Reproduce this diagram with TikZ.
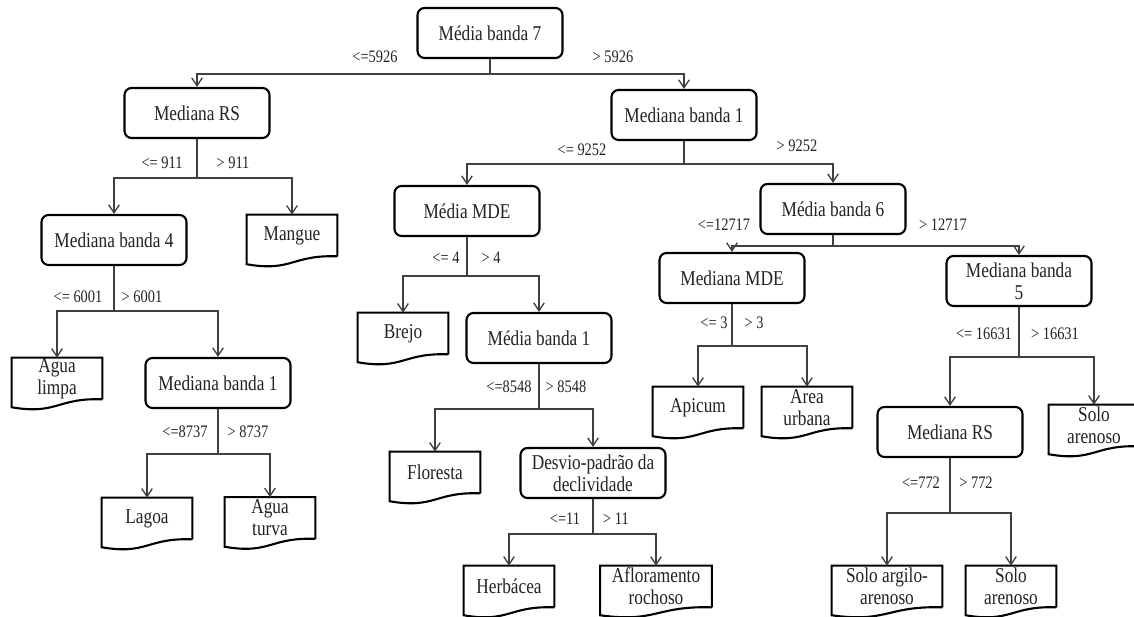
\documentclass[tikz,border=0pt]{standalone}
\usepackage{fontspec}
\setmainfont{Liberation Serif}[FakeStretch=0.82]
\usetikzlibrary{arrows.meta,positioning}

\definecolor{linegray}{HTML}{404040}
\definecolor{textgray}{HTML}{222222}

\tikzset{
  split/.style={draw=black, line width=1.2pt, rounded corners=4pt, minimum width=2.9cm,
    minimum height=1cm, align=center, inner sep=1pt, text=textgray,
    font=\fontsize{12}{12.5}\selectfont},
  leaf/.style={minimum width=1.8cm, minimum height=0.82cm, align=center, inner sep=0pt,
    text=textgray, font=\fontsize{12}{12.5}\selectfont},
  leafline/.style={draw=black, line width=1.2pt},
  cond/.style={inner sep=1pt, text=textgray, font=\fontsize{10}{11}\selectfont},
  branch/.style={draw=linegray, line width=0.75pt, -{Straight Barb[length=4.5pt,width=6pt]}}
}

\begin{document}
\begin{tikzpicture}[x=0.02cm, y=-0.02cm]
\useasboundingbox (0,0) rectangle (1134,617);

% tests
\node[split] (root) at (490,33) {Média banda 7};
\node[split] (mrs) at (197,113) {Mediana RS};
\node[split] (mb4) at (114,240) {Mediana banda 4};
\node[split] (mb1a) at (218,383) {Mediana banda 1};
\node[split] (mb1) at (684,115) {Mediana banda 1};
\node[split] (mmde) at (467,211) {Média MDE};
\node[split] (medb1) at (539,338) {Média banda 1};
\node[split] (desvio) at (593,473) {Desvio-padrão da\\declividade};
\node[split] (mb6) at (833,209) {Média banda 6};
\node[split] (medmde) at (732,278) {Mediana MDE};
\node[split] (mb5) at (1019,281) {Mediana banda\\5};
\node[split] (mrs2) at (950,432) {Mediana RS};

% classes
\node[leaf] (mangue) at (292,235.5) {Mangue};
\node[leaf] (agualimpa) at (57,378.5) {Agua\\limpa};
\node[leaf] (lagoa) at (147,518.5) {Lagoa};
\node[leaf] (aguaturva) at (270,518) {Agua\\turva};
\node[leaf] (brejo) at (403,333.5) {Brejo};
\node[leaf] (floresta) at (435,472.5) {Floresta};
\node[leaf] (herbacea) at (509,586.5) {Herbácea};
\node[leaf, minimum width=2.22cm] (aflor) at (656,586.5) {Afloramento\\rochoso};
\node[leaf] (apicum) at (698,407.5) {Apicum};
\node[leaf] (urbana) at (807,407.5) {Area\\urbana};
\node[leaf] (soloa) at (1094,425.5) {Solo\\arenoso};
\node[leaf, minimum width=2.2cm] (argilo) at (887,586.5) {Solo argilo-\\arenoso};
\node[leaf] (solob) at (1011,586.5) {Solo\\arenoso};

\foreach \n in {mangue,agualimpa,lagoa,aguaturva,brejo,floresta,herbacea,aflor,apicum,urbana,soloa,argilo,solob}
  \draw[leafline] (\n.south east) -- (\n.north east) -- (\n.north west) -- ([yshift=-4.5pt]\n.south west)
    .. controls ([yshift=-9pt]\n.south) and ([yshift=1pt]\n.south) .. (\n.south east);

% branches
\draw[branch] (root.south) -- ++(0,15) -| (mrs.north);
\draw[branch] (root.south) -- ++(0,15) -| (mb1.north);
\draw[branch] (mrs.south) -- ++(0,39) -| (mb4.north);
\draw[branch] (mrs.south) -- ++(0,39) -| (mangue.north);
\draw[branch] (mb4.south) -- ++(0,45) -| (agualimpa.north);
\draw[branch] (mb4.south) -- ++(0,45) -| (mb1a.north);
\draw[branch] (mb1a.south) -- ++(0,45) -| (lagoa.north);
\draw[branch] (mb1a.south) -- ++(0,45) -| (aguaturva.north);
\draw[branch] (mb1.south) -- ++(0,23) -| (mmde.north);
\draw[branch] (mb1.south) -- ++(0,23) -| (mb6.north);
\draw[branch] (mmde.south) -- ++(0,39) -| (brejo.north);
\draw[branch] (mmde.south) -- ++(0,39) -| (medb1.north);
\draw[branch] (medb1.south) -- ++(0,45) -| (floresta.north);
\draw[branch] (medb1.south) -- ++(0,45) -| (desvio.north);
\draw[branch] (desvio.south) -- ++(0,35) -| (herbacea.north);
\draw[branch] (desvio.south) -- ++(0,35) -| (aflor.north);
\draw[branch] (mb6.south) -- ++(0,11) -| (medmde.north);
\draw[branch] (mb6.south) -- ++(0,11) -| (mb5.north);
\draw[branch] (medmde.south) -- ++(0,42) -| (apicum.north);
\draw[branch] (medmde.south) -- ++(0,42) -| (urbana.north);
\draw[branch] (mb5.south) -- ++(0,50) -| (mrs2.north);
\draw[branch] (mb5.south) -- ++(0,50) -| (soloa.north);
\draw[branch] (mrs2.south) -- ++(0,55) -| (argilo.north);
\draw[branch] (mrs2.south) -- ++(0,55) -| (solob.north);

% conditions
\node[cond] (c1) at (375,57) {<=5926};
\node[cond] (c2) at (613,57) {> 5926};
\node[cond] (c3) at (162,163) {<= 911};
\node[cond] (c4) at (233,163) {> 911};
\node[cond] (c5) at (78,297) {<= 6001};
\node[cond] (c6) at (142,297) {> 6001};
\node[cond] (c7) at (185,432) {<=8737};
\node[cond] (c8) at (248,432) {> 8737};
\node[cond] (c9) at (582,150) {<= 9252};
\node[cond] (c10) at (797,146) {> 9252};
\node[cond] (c11) at (446,258) {<= 4};
\node[cond] (c12) at (491,258) {> 4};
\node[cond] (c13) at (509,387) {<=8548};
\node[cond] (c14) at (566,387) {> 8548};
\node[cond] (c15) at (565,519) {<=11};
\node[cond] (c16) at (616,519) {> 11};
\node[cond] (c17) at (724,225) {<=12717};
\node[cond] (c18) at (943,225) {> 12717};
\node[cond] (c19) at (714,323) {<= 3};
\node[cond] (c20) at (754,323) {> 3};
\node[cond] (c21) at (984,334) {<= 16631};
\node[cond] (c22) at (1055,334) {> 16631};
\node[cond] (c23) at (921,483) {<=772};
\node[cond] (c24) at (976,483) {> 772};
\end{tikzpicture}
\end{document}
